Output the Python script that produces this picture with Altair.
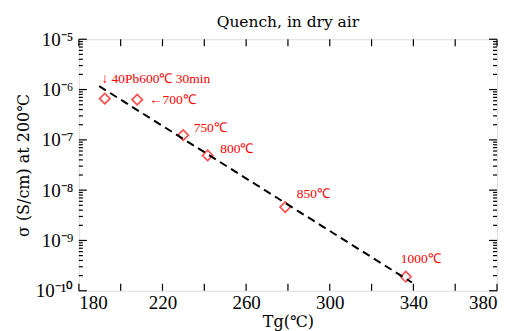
import altair as alt
import pandas as pd

# Data
tg = [192.4, 207.9, 229.9, 241.6, 278.7, 336.4]
sigma = [6.6e-7, 6.3e-7, 1.24e-7, 4.9e-8, 4.6e-9, 1.9e-10]

fit_tg = [189.7, 339.3]
fit_sigma = [1.17e-6, 1.46e-10]

ann_text = ["↓ 40Pb600℃ 30min", "←700℃", "750℃", "800℃", "850℃", "1000℃"]
ann_tg = [190.8, 213.6, 234.9, 247.6, 284.2, 334.0]
ann_sigma = [10 ** -5.794, 10 ** -6.21, 10 ** -6.76, 10 ** -7.18, 10 ** -8.075, 10 ** -9.37]

x_ticks = [180, 200, 220, 240, 260, 280, 300, 320, 340, 360, 380]
x_labels = [180, 220, 260, 300, 340, 380]
y_major = [1e-10, 1e-9, 1e-8, 1e-7, 1e-6, 1e-5]
y_major_labels = ["10⁻¹⁰", "10⁻⁹", "10⁻⁸", "10⁻⁷", "10⁻⁶", "10⁻⁵"]
y_minor = [m * d for d in [1e-10, 1e-9, 1e-8, 1e-7, 1e-6] for m in range(2, 10)]

W, H = 419, 252
FONT = "Liberation Serif"
TFONT = "DejaVu Serif"
RED = "#ff0000"

xscale = alt.Scale(domain=[180, 380], nice=False, zero=False)
yscale = alt.Scale(type="log", domain=[1e-10, 1e-5], nice=False)

label_expr = " : ".join(
    f"abs(datum.value - {v}) < {v} * 0.01 ? '{l}'" for v, l in zip(y_major, y_major_labels)
) + " : ''"

xaxis = alt.Axis(
    values=x_labels, title="Tg(℃)", ticks=False, tickSize=0, domain=False, grid=False,
    labelFont=FONT, labelFontSize=19, labelColor="black", labelPadding=3,
    titleFont=TFONT, titleFontSize=16, titleFontWeight="normal", titleColor="black",
    titleY=23, titleBaseline="top")
yaxis = alt.Axis(
    values=y_major, labelExpr=label_expr, title="σ (S/cm) at 200℃", ticks=False, tickSize=0,
    domain=False, grid=False,
    labelFont=FONT, labelFontSize=19, labelColor="black", labelPadding=6,
    titleFont=TFONT, titleFontSize=16, titleFontWeight="normal", titleColor="black",
    titleX=-55, titleY=H / 2, titleBaseline="middle", titleAlign="center", titleAngle=270)

X = lambda: alt.X("tg:Q", scale=xscale, axis=xaxis, title="Tg(℃)")
Y = lambda: alt.Y("sigma:Q", scale=yscale, axis=yaxis, title="σ (S/cm) at 200℃")

pts = pd.DataFrame({"tg": tg, "sigma": sigma})
fit = pd.DataFrame({"tg": fit_tg, "sigma": fit_sigma})
ann = pd.DataFrame({"tg": ann_tg, "sigma": ann_sigma, "t": ann_text})
xt = pd.DataFrame({"tg": x_ticks})
ymaj = pd.DataFrame({"sigma": y_major})
ymin = pd.DataFrame({"sigma": y_minor})

points = alt.Chart(pts).mark_point(shape="diamond", size=110, color=RED, strokeWidth=1.6, filled=False).encode(
    x=X(), y=Y())

line = alt.Chart(fit).mark_line(color="black", strokeDash=[8, 5], strokeWidth=2).encode(x=X(), y=Y())

texts = alt.Chart(ann).mark_text(align="left", baseline="middle", font=FONT, fontSize=13.5, color=RED).encode(
    x=X(), y=Y(), text="t:N")

def xtick(y0, y1):
    return alt.Chart(xt).mark_rule(color="black", strokeWidth=1.2).encode(
        x=X(), y=alt.value(y0), y2=alt.value(y1))

def ytick(df, x0, x1):
    return alt.Chart(df).mark_rule(color="black", strokeWidth=1.2).encode(
        y=Y(), x=alt.value(x0), x2=alt.value(x1))

ticks = [
    xtick(H, H - 7), xtick(0, 7),
    ytick(ymaj, 0, 8), ytick(ymaj, W, W - 8),
    ytick(ymin, 0, 4), ytick(ymin, W, W - 4),
]

chart = alt.layer(points, line, texts, *ticks).properties(
    width=W, height=H,
    autosize=alt.AutoSizeParams(type="none"),
    padding={"left": 71, "top": 31, "right": 8, "bottom": 40},
    title=alt.Title("Quench, in dry air", font=TFONT, fontSize=15.5, fontWeight="normal", color="black",
                    offset=9, dy=9, frame="group", anchor="middle"),
).configure_view(stroke="black", strokeWidth=1.6).configure(background="white")

chart.save("out.html", embed_options={"renderer": "svg", "actions": False})
